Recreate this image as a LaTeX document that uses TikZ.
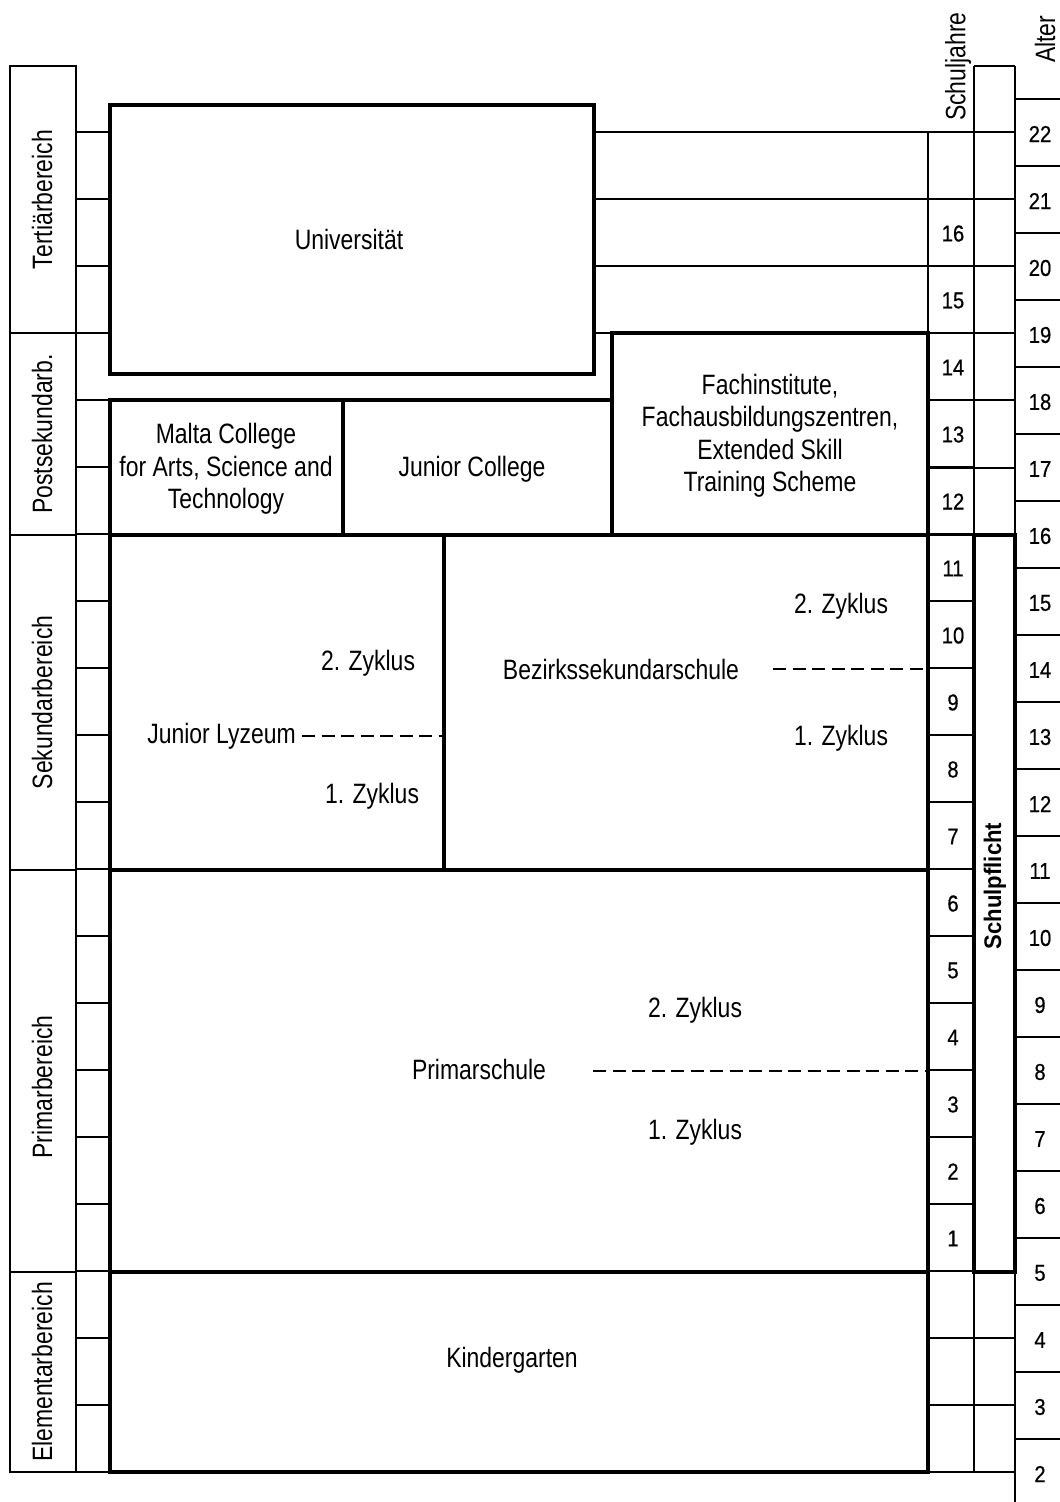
\documentclass[tikz,border=0pt]{standalone}
\usepackage{fontspec}
\setmainfont{Liberation Sans}[FakeStretch=0.82]
\newfontfamily\numfont{Liberation Sans}[FakeStretch=0.88, FakeBold=0.6]
\newfontfamily\boldnarrow{Liberation Sans Bold}[FakeStretch=0.92]

\tikzset{
  gridline/.style={line width=1.9pt},
  heavy/.style={line width=4.2pt},
  dashline/.style={line width=1.9pt, dash pattern=on 13pt off 6.5pt},
  lbl/.style={font=\fontsize{28}{32.5}\selectfont, inner sep=0pt, align=center},
  vlbl/.style={lbl, rotate=90},
  yearnum/.style={font=\numfont\fontsize{23}{25}\selectfont, inner sep=0pt},
}

\begin{document}
\begin{tikzpicture}[x=1pt, y=-1pt]
\useasboundingbox (0,0) rectangle (1060,1502);

% ---- left column: education levels ----
\draw[gridline] (10,66) rectangle (76,333);
\draw[gridline] (10,333) rectangle (76,535);
\draw[gridline] (10,535) rectangle (76,870);
\draw[gridline] (10,870) rectangle (76,1272);
\draw[gridline] (10,1272) rectangle (76,1472);
\foreach \k in {0,...,20} {
  \draw[gridline] (76,132+67*\k) -- (110,132+67*\k);
}
\draw[gridline] (10,1472) -- (1015,1472);

% ---- year grid to the right of the university ----
\foreach \yy in {132,199,266,333} {
  \draw[gridline] (594,\yy) -- (1015,\yy);
}
\foreach \yy in {400,468,535,1338,1405} {
  \draw[gridline] (928,\yy) -- (1015,\yy);
}
\foreach \k in {0,...,20} {
  \draw[gridline] (928,132+67*\k) -- (974,132+67*\k);
}
\draw[gridline] (928,132) -- (928,1472);
\draw[gridline] (974,66) -- (974,1472);
\draw[gridline] (1015,66) -- (1015,1502);
\draw[gridline] (974,66) -- (1015,66);

% ---- age column ----
\foreach \k in {0,...,20} {
  \draw[gridline] (1015,99+67*\k) -- (1060,99+67*\k);
}

% ---- institutions ----
\draw[heavy] (110,105) rectangle (594,374);
\draw[heavy] (110,400) rectangle (343,535);
\draw[heavy] (343,400) rectangle (612,535);
\draw[heavy] (612,333) rectangle (928,535);
\draw[heavy] (110,535) rectangle (444,870);
\draw[heavy] (444,535) rectangle (928,870);
\draw[heavy] (110,870) rectangle (928,1272);
\draw[heavy] (110,1272) rectangle (928,1472);
\draw[heavy] (974,535) rectangle (1015,1272);

% ---- level labels ----
\node[vlbl] (tert) at (42,199.5) {Tertiärbereich};
\node[vlbl] (post) at (42,434) {Postsekundarb.};
\node[vlbl] (sek) at (42,702.5) {Sekundarbereich};
\node[vlbl] (prim) at (42,1087) {Primarbereich};
\node[vlbl] (elem) at (42,1372) {Elementarbereich};

% ---- column headers ----
\node[vlbl, anchor=west] (sj) at (958,121) {Schuljahre};
\node[vlbl, anchor=west] (alt) at (1045,63) {Alter};
\node[font=\boldnarrow\fontsize{24}{26}\selectfont, inner sep=0pt, rotate=90] (pflicht) at (995,886) {Schulpflicht};

% ---- institution texts ----
\node[lbl] (uni) at (349,239) {Universität};
\node[lbl] (malta) at (226,469) {Malta College\\for Arts, Science and\\Technology};
\node[lbl] (jc) at (472,469) {Junior College};
\node[lbl] (fach) at (770,436) {Fachinstitute,\\Fachausbildungszentren,\\Extended Skill\\Training Scheme};

\node[lbl, anchor=east] (jl) at (296,736) {Junior Lyzeum};
\node[lbl] (jlz2) at (368,663) {2. Zyklus};
\node[lbl] (jlz1) at (372,796) {1. Zyklus};
\coordinate (jlend) at (444,736);
\draw[dashline] ([xshift=6pt]jl.east) -- (jlend);

\node[lbl] (bez) at (621,669) {Bezirkssekundarschule};
\node[lbl] (bez2) at (841,606) {2. Zyklus};
\node[lbl] (bez1) at (841,738) {1. Zyklus};
\coordinate (bezstart) at (773,669);
\coordinate (bezend) at (928,669);
\draw[dashline] (bezstart) -- (bezend);

\node[lbl] (ps) at (479,1069) {Primarschule};
\node[lbl] (ps2) at (695,1010) {2. Zyklus};
\node[lbl] (ps1) at (695,1132) {1. Zyklus};
\coordinate (psstart) at (593,1071);
\coordinate (psend) at (928,1071);
\draw[dashline] (psstart) -- (psend);

\node[lbl] (kg) at (512,1360) {Kindergarten};

% ---- school years ----
\foreach \n in {1,...,16} {
  \node[yearnum] (sy\n) at (953,1238.5-67*\n+67) {\n};
}

% ---- ages ----
\foreach \a in {2,...,22} {
  \node[yearnum] (age\a) at (1040,134+67*22-67*\a) {\a};
}
\end{tikzpicture}
\end{document}
